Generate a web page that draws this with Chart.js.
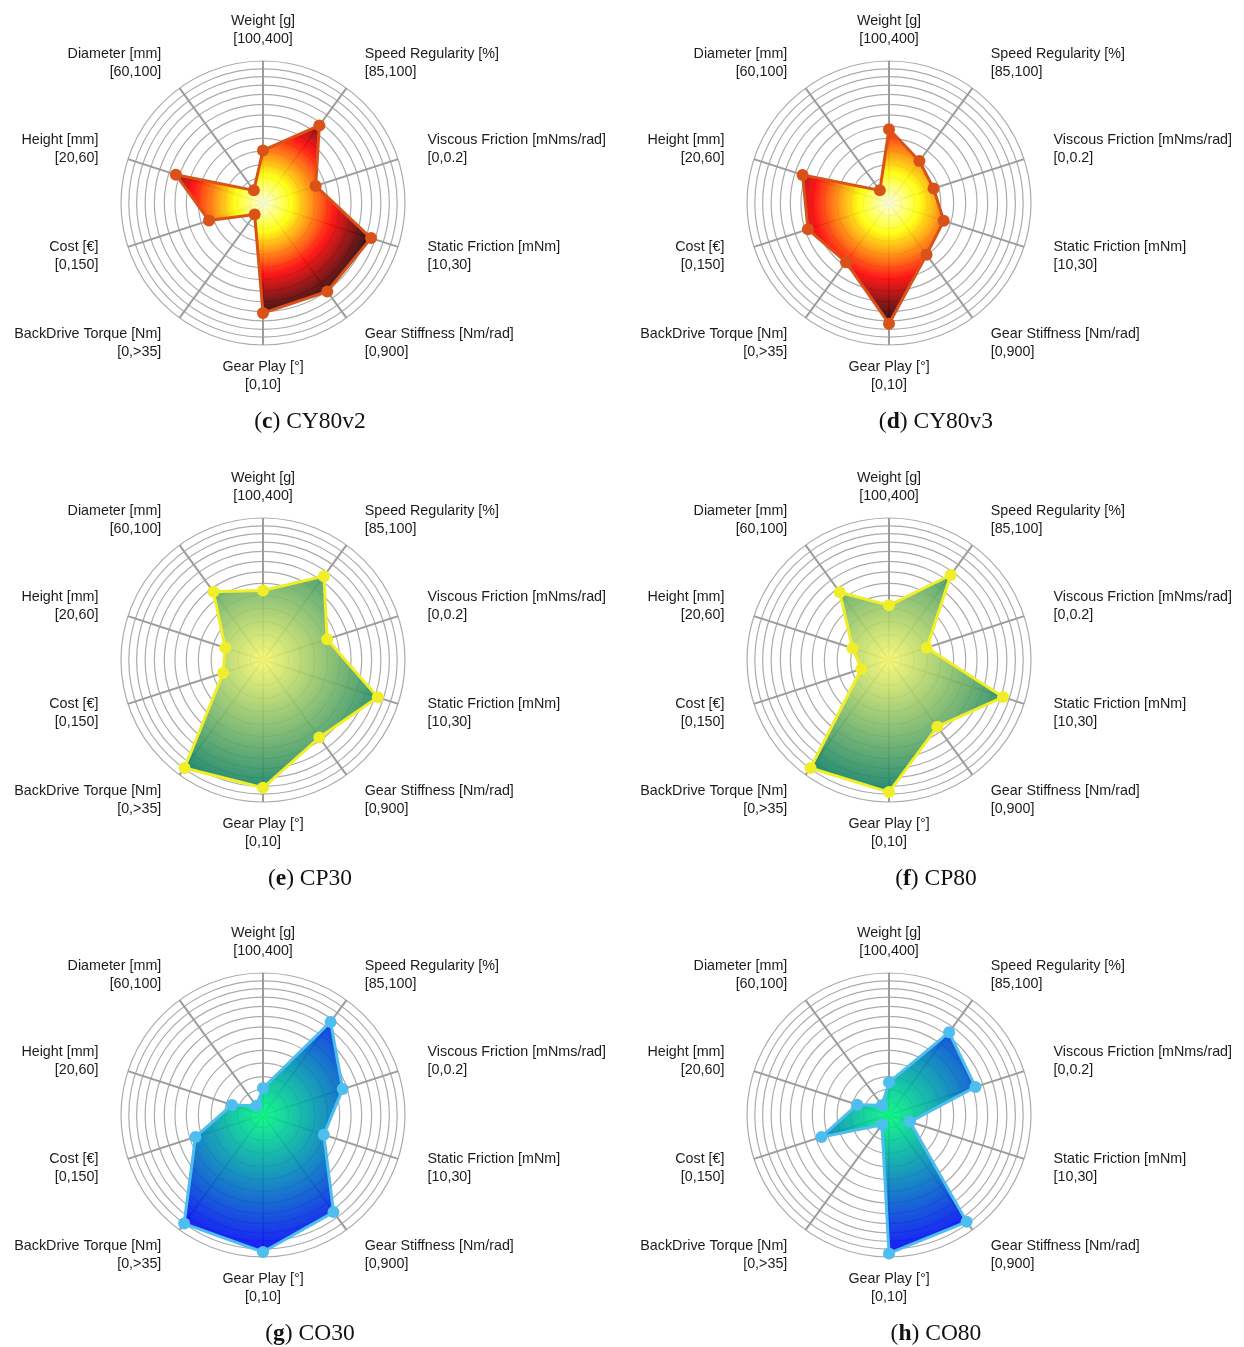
<!DOCTYPE html>
<html>
<head>
<meta charset="utf-8">
<title>Actuator comparison radar charts</title>
<script src="https://cdn.jsdelivr.net/npm/chart.js@4.4.1/dist/chart.umd.min.js"></script>
<style>
  html, body { margin: 0; padding: 0; background: #ffffff; }
  #page { position: relative; width: 1244px; height: 1347px; overflow: hidden; }
  .panel { position: absolute; width: 618px; height: 450px; }
  .panel canvas { position: absolute; left: 0; top: 0; }
  .cap {
    position: absolute; left: 0; width: 620px; top: 405px;
    text-align: center; line-height: 30px;
    font-family: "Liberation Serif", "DejaVu Serif", serif;
    font-size: 23.5px; color: #111;
  }
</style>
</head>
<body>
<div id="page"></div>
<script>
// Axes of every radar, clockwise from the top
const axisNames = [
  'Weight [g]', 'Speed Regularity [%]', 'Viscous Friction [mNms/rad]',
  'Static Friction [mNm]', 'Gear Stiffness [Nm/rad]', 'Gear Play [°]',
  'BackDrive Torque [Nm]', 'Cost [€]', 'Height [mm]', 'Diameter [mm]'
];
const axisRanges = [
  '[100,400]', '[85,100]', '[0,0.2]', '[10,30]', '[0,900]',
  '[0,10]', '[0,>35]', '[0,150]', '[20,60]', '[60,100]'
];

// Radial grid circles (normalised score)
const ringLevels = [0.09, 0.18, 0.27, 0.365, 0.455, 0.54, 0.62, 0.695, 0.765, 0.83, 0.89, 0.945, 1];

// Normalised scores per actuator, same order as axisNames
const cy80v2 = [0.37, 0.675, 0.39, 0.80, 0.77, 0.775, 0.10, 0.40, 0.645, 0.11];
const cy80v3 = [0.52, 0.365, 0.33, 0.405, 0.45, 0.85, 0.515, 0.60, 0.64, 0.11];
const cp30   = [0.49, 0.73, 0.475, 0.85, 0.675, 0.90, 0.94, 0.295, 0.28, 0.595];
const cp80   = [0.385, 0.74, 0.28, 0.845, 0.58, 0.93, 0.94, 0.205, 0.27, 0.59];
const co30   = [0.19, 0.81, 0.59, 0.45, 0.845, 0.965, 0.945, 0.50, 0.23, 0.08];
const co80   = [0.23, 0.72, 0.64, 0.155, 0.93, 0.975, 0.085, 0.50, 0.235, 0.085];

const panelLetters = ['c', 'd', 'e', 'f', 'g', 'h'];
const panelNames   = ['CY80v2', 'CY80v3', 'CP30', 'CP80', 'CO30', 'CO80'];
const panelValues  = [cy80v2, cy80v3, cp30, cp80, co30, co80];

// Colour maps used for the radial fills (0 = centre, 1 = largest score)
const hotMap = [
  [0, [255, 255, 230]], [0.25, [255, 255, 0]], [0.44, [255, 128, 0]],
  [0.625, [255, 0, 0]], [0.82, [128, 0, 0]], [1, [15, 0, 0]]
];
const summerMap = [[0, [250, 250, 110]], [1, [10, 125, 100]]];
const winterMap = [[0, [0, 250, 128]], [1, [0, 0, 250]]];

const panelMaps    = [hotMap, hotMap, summerMap, summerMap, winterMap, winterMap];
const panelMarkers = ['rgb(217,83,25)', 'rgb(217,83,25)', 'rgb(240,238,40)', 'rgb(240,238,40)', 'rgb(77,190,238)', 'rgb(77,190,238)'];

const FILL_ALPHA = 0.9;
const LABEL_GAP = 31;
const LINE_STEP = 18;

// Axis name + range drawn outside the outer circle
const axisLabelPlugin = {
  id: 'axisLabels',
  afterDraw(chart) {
    const s = chart.scales.r;
    const ctx = chart.ctx;
    ctx.save();
    ctx.font = '14.3px "Liberation Sans", Arial, Helvetica, sans-serif';
    ctx.fillStyle = '#1c1c1c';
    ctx.textBaseline = 'middle';
    const n = axisNames.length;
    for (let i = 0; i < n; i++) {
      const p = s.getPointPosition(i, s.drawingArea + LABEL_GAP);
      const deg = Math.round(i * 360 / n);
      ctx.textAlign = (deg === 0 || deg === 180) ? 'center' : (deg < 180 ? 'left' : 'right');
      ctx.fillText(axisNames[i], p.x, p.y - LINE_STEP / 2);
      ctx.fillText(axisRanges[i], p.x, p.y + LINE_STEP / 2);
    }
    ctx.restore();
  }
};

function radialFill(values, map) {
  return function (context) {
    const chart = context.chart;
    const s = chart.scales.r;
    if (!s || !s.drawingArea) return 'rgba(0,0,0,0)';
    const top = Math.max(...values);
    const r = s.getDistanceFromCenterForValue(top);
    const g = chart.ctx.createRadialGradient(s.xCenter, s.yCenter, 0, s.xCenter, s.yCenter, r);
    map.forEach(([t, c]) => g.addColorStop(t, `rgba(${c[0]},${c[1]},${c[2]},${FILL_ALPHA})`));
    return g;
  };
}

const page = document.getElementById('page');
const colX = [0, 626];
const rowY = [0, 457, 912];

panelValues.forEach((values, k) => {
  const panel = document.createElement('div');
  panel.className = 'panel';
  panel.style.left = colX[k % 2] + 'px';
  panel.style.top = rowY[Math.floor(k / 2)] + 'px';
  const canvas = document.createElement('canvas');
  canvas.width = 618;
  canvas.height = 410;
  canvas.style.width = '618px';
  canvas.style.height = '410px';
  panel.appendChild(canvas);
  const cap = document.createElement('div');
  cap.className = 'cap';
  cap.innerHTML = '(<b>' + panelLetters[k] + '</b>) ' + panelNames[k];
  panel.appendChild(cap);
  page.appendChild(panel);

  const mark = panelMarkers[k];
  new Chart(canvas, {
    type: 'radar',
    data: {
      labels: axisNames,
      datasets: [{
        data: values,
        fill: true,
        backgroundColor: radialFill(values, panelMaps[k]),
        borderColor: mark,
        borderWidth: 3,
        borderJoinStyle: 'round',
        pointBackgroundColor: mark,
        pointBorderColor: mark,
        pointBorderWidth: 0,
        pointRadius: 6
      }]
    },
    options: {
      responsive: false,
      animation: false,
      devicePixelRatio: 1,
      layout: { padding: { left: 121, right: 213, top: 61, bottom: 65 } },
      plugins: { legend: { display: false }, tooltip: { enabled: false } },
      scales: {
        r: {
          min: 0,
          max: 1,
          ticks: { display: false },
          pointLabels: { display: false },
          grid: { circular: true, color: '#ababab', lineWidth: 1.2 },
          angleLines: { color: '#9c9c9c', lineWidth: 2 },
          afterBuildTicks(scale) {
            scale.ticks = [0, ...ringLevels].map(v => ({ value: v }));
          }
        }
      }
    },
    plugins: [axisLabelPlugin]
  });
});
</script>
</body>
</html>
